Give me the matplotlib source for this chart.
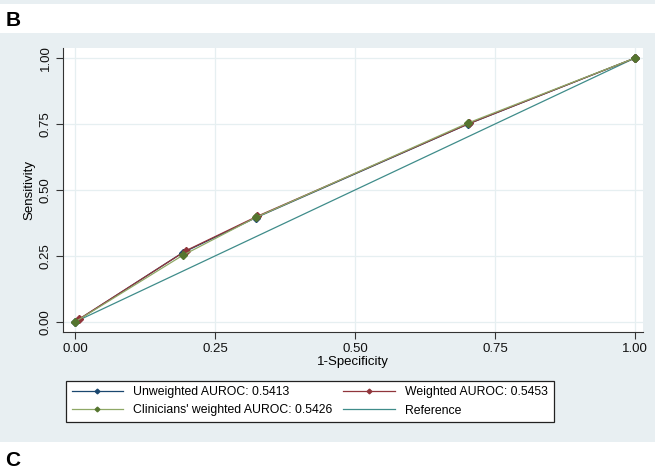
import matplotlib.pyplot as plt
from matplotlib.patches import Rectangle

# ROC points
unweighted_x = [0.0, 0.192, 0.323, 0.702, 1.0]
unweighted_y = [0.0, 0.262, 0.395, 0.750, 1.0]
weighted_x = [0.008, 0.198, 0.325, 0.704, 1.0]
weighted_y = [0.012, 0.270, 0.400, 0.752, 1.0]
clinician_x = [0.0, 0.192, 0.323, 0.702, 1.0]
clinician_y = [0.0, 0.252, 0.396, 0.754, 1.0]
reference_xy = [0.0, 1.0]

ticks = [0.0, 0.25, 0.5, 0.75, 1.0]
tick_labels = ["0.00", "0.25", "0.50", "0.75", "1.00"]

labels = [
    "Unweighted AUROC: 0.5413",
    "Weighted AUROC: 0.5453",
    "Clinicians' weighted AUROC: 0.5426",
    "Reference",
]

BG = "#e8eff2"
NAVY = "#1a476f"
MAROON = "#90353b"
GREEN = "#55752f"
TEAL = "#3f8c8a"

plt.rcParams["font.family"] = ["Liberation Sans", "DejaVu Sans"]

fig = plt.figure(figsize=(6.55, 4.75), dpi=100, facecolor="white")
fig.add_artist(Rectangle((0, 1 - 4 / 475), 1, 4 / 475, transform=fig.transFigure,
                         facecolor=BG, edgecolor="none", zorder=0))
fig.add_artist(Rectangle((0, 1 - 442 / 475), 1, (442 - 33) / 475, transform=fig.transFigure,
                         facecolor=BG, edgecolor="none", zorder=0))

ax = fig.add_axes([63 / 655, 1 - 332 / 475, 580 / 655, 284 / 475])
ax.set_facecolor("white")

ax.plot(reference_xy, reference_xy, color=TEAL, lw=0.9, label=labels[3], zorder=2)
ax.plot(unweighted_x, unweighted_y, color=NAVY, lw=0.9, marker="D", ms=4,
        label=labels[0], zorder=3)
ax.plot(weighted_x, weighted_y, color=MAROON, lw=0.9, marker="D", ms=4,
        label=labels[1], zorder=4)
ax.plot(clinician_x, clinician_y, color="#8fa866", lw=0.9, marker="D", ms=4,
        mfc=GREEN, mec=GREEN, label=labels[2], zorder=5)

ax.set_xlim(-0.0214, 1.0143)
ax.set_ylim(-0.038, 1.038)
ax.set_xticks(ticks)
ax.set_xticklabels(tick_labels)
ax.set_yticks(ticks)
ax.set_yticklabels(tick_labels, rotation=90, va="center")
ax.tick_params(axis="both", direction="out", length=5, width=0.8, color="#333333",
               labelsize=9.5, labelcolor="#111111", pad=3)
ax.grid(True, color="#e6eff1", lw=0.9)
ax.set_axisbelow(True)
for side in ["top", "right"]:
    ax.spines[side].set_visible(False)
for side in ["left", "bottom"]:
    ax.spines[side].set_color("#333333")
    ax.spines[side].set_linewidth(0.8)

ax.set_xlabel("1-Specificity", fontsize=9.5, labelpad=1)
ax.set_ylabel("Sensitivity", fontsize=9.5, labelpad=3)

handles, labs = ax.get_legend_handles_labels()
order = [labels[0], labels[2], labels[1], labels[3]]
hmap = dict(zip(labs, handles))
leg = fig.legend([hmap[l] for l in order], order, loc="lower left",
                 bbox_to_anchor=(66 / 655, 1 - 422 / 475),
                 ncol=2, fontsize=8.8, frameon=True, fancybox=False,
                 edgecolor="#222222", framealpha=1, handlelength=4.2,
                 handletextpad=0.85, borderaxespad=0, labelspacing=0.5,
                 borderpad=0.45, columnspacing=0.9, markerscale=0.6)
leg.get_frame().set_linewidth(0.9)

fig.text(0.008, 1 - 21 / 475, "B", fontsize=15, fontweight="bold", va="center")
fig.text(0.008, 1 - 461 / 475, "C", fontsize=15, fontweight="bold", va="center")

fig.savefig("out.png", dpi=100, facecolor=fig.get_facecolor())
